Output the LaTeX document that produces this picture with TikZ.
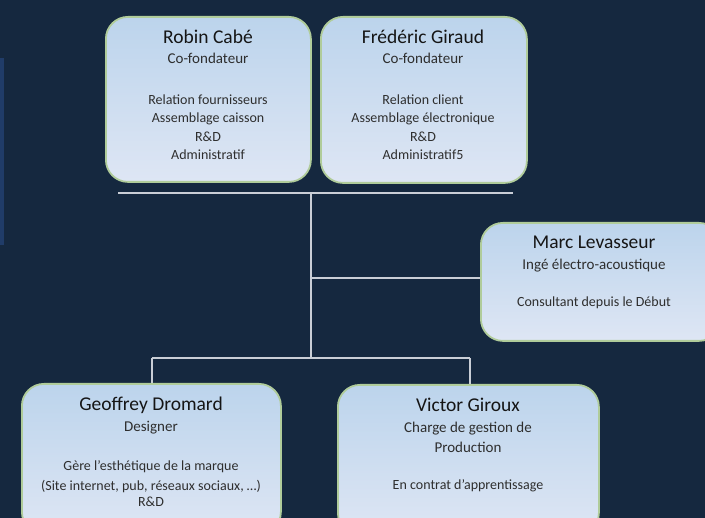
\documentclass[tikz,border=0pt]{standalone}
\usepackage{fontspec}
\setmainfont{Carlito}
\definecolor{bg}{HTML}{15283F}
\definecolor{strip}{HTML}{203C68}
\definecolor{boxtop}{HTML}{BCD4EC}
\definecolor{boxbot}{HTML}{DEE6F4}
\definecolor{boxedge}{HTML}{B0CC9A}
\definecolor{linecol}{HTML}{C9CED6}
\definecolor{namecol}{HTML}{151515}
\definecolor{txtcol}{HTML}{2E2E2E}
\tikzset{
  card/.style={draw=boxedge, line width=1.8pt, rounded corners=22pt, top color=boxtop, bottom color=boxbot, inner sep=0pt, anchor=north west},
  pname/.style={font=\fontsize{19.5}{21}\selectfont, text=namecol, inner sep=0pt, anchor=base},
  prole/.style={font=\fontsize{15}{17}\selectfont, text=txtcol, inner sep=0pt, anchor=base},
  pdet/.style={font=\fontsize{14}{16}\selectfont, text=txtcol, inner sep=0pt, anchor=base},
  conn/.style={draw=linecol, line width=1.4pt},
  bar/.style={draw=linecol, line width=2.8pt}
}
\begin{document}
\begin{tikzpicture}[x=1pt,y=-1pt]
\useasboundingbox (0,0) rectangle (705,518);
\clip (0,0) rectangle (705,518);
\fill[bg] (0,0) rectangle (705,518);
\fill[strip] (0,58) rectangle (4,245);

% cards
\node[card, minimum width=205pt, minimum height=165pt] (robin) at (105,16) {};
\node[card, minimum width=206pt, minimum height=166pt] (fred) at (320,16) {};
\node[card, minimum width=240pt, minimum height=118pt] (marc) at (480,222) {};
\node[card, minimum width=259pt, minimum height=150pt] (geof) at (21,383) {};
\node[card, minimum width=261pt, minimum height=150pt] (vict) at (337,384) {};

% connectors
\coordinate (barL) at (118,193);
\coordinate (barR) at (513,193);
\coordinate (top) at (311,193);
\coordinate (mid) at (311,278);
\coordinate (low) at (311,358);
\coordinate (lowL) at (152,358);
\coordinate (lowR) at (470,358);
\draw[bar] (barL) -- (barR);
\draw[conn] (top) -- (low);
\draw[conn] (mid) -- (mid -| marc.west);
\draw[conn] (lowL) -- (lowR);
\draw[conn] (lowL) -- (lowL |- geof.north);
\draw[conn] (lowR) -- (lowR |- vict.north);

% Robin
\node[pname] (rn) at (208,44) {Robin Cabé};
\node[prole] (rr) at (208,64) {Co-fondateur};
\node[pdet] (r1) at (208,105) {Relation fournisseurs};
\node[pdet] (r2) at (208,123) {Assemblage caisson};
\node[pdet] (r3) at (208,142) {R\&D};
\node[pdet] (r4) at (208,160) {Administratif};

% Frederic
\node[pname] (fn) at (423,44) {Frédéric Giraud};
\node[prole] (fr) at (423,64) {Co-fondateur};
\node[pdet] (f1) at (423,105) {Relation client};
\node[pdet] (f2) at (423,123) {Assemblage électronique};
\node[pdet] (f3) at (423,142) {R\&D};
\node[pdet] (f4) at (423,160) {Administratif5};

% Marc
\node[pname] (mn) at (594,249) {Marc Levasseur};
\node[prole] (mr) at (594,270) {Ingé électro-acoustique};
\node[pdet] (m1) at (594,307) {Consultant depuis le Début};

% Geoffrey
\node[pname] (gn) at (151,411) {Geoffrey Dromard};
\node[prole] (gr) at (151,432) {Designer};
\node[pdet] (g1) at (151,471) {Gère l'esthétique de la marque};
\node[pdet] (g2) at (151,491) {(Site internet, pub, réseaux sociaux, \dots)};
\node[pdet] (g3) at (151,507) {R\&D};

% Victor
\node[pname] (vn) at (468,412) {Victor Giroux};
\node[prole] (vr) at (468,433) {Charge de gestion de};
\node[prole] (vr2) at (468,453) {Production};
\node[pdet] (v1) at (468,490) {En contrat d'apprentissage};
\end{tikzpicture}
\end{document}
